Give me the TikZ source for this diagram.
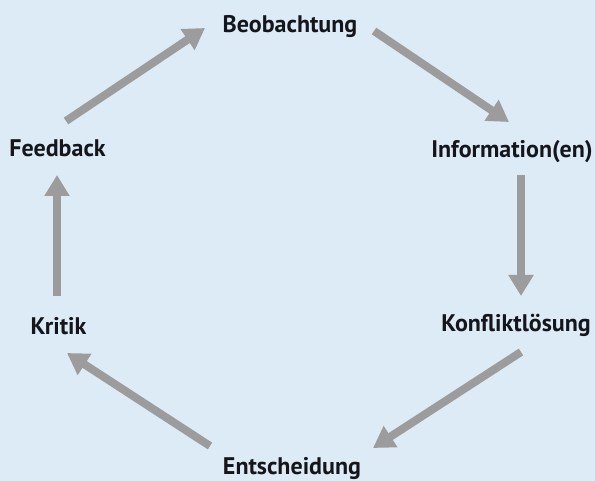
\documentclass[tikz,border=0pt]{standalone}
\usepackage{fontspec}
\setmainfont{PT Sans}
\usetikzlibrary{arrows.meta}
\definecolor{bg}{HTML}{DDEBF7}
\definecolor{arr}{HTML}{9C9C9C}
\definecolor{txt}{HTML}{15161C}
\tikzset{
  lbl/.style={font=\bfseries\fontsize{24}{28}\selectfont, text=txt, inner sep=0pt, anchor=base},
  cyc/.style={draw=arr, line width=8pt, -{Triangle[length=21pt,width=24pt]}}
}
\begin{document}
\begin{tikzpicture}[x=1pt,y=-1pt]
\fill[bg] (0,0) rectangle (595,481);
\useasboundingbox (0,0) rectangle (595,481);
\node[lbl] (beo) at (290,33) {Beobachtung};
\node[lbl] (fee) at (57.5,157) {Feedback};
\node[lbl] (inf) at (512,158) {Information(en)};
\node[lbl] (kon) at (516,332) {Konfliktlösung};
\node[lbl] (kri) at (58.5,335) {Kritik};
\node[lbl] (ent) at (292,474.5) {Entscheidung};
\coordinate (a1s) at (66,121);  \coordinate (a1e) at (205,28);
\coordinate (a2s) at (374,31);  \coordinate (a2e) at (509,122);
\coordinate (a3s) at (521,175); \coordinate (a3e) at (521,296);
\coordinate (a4s) at (521,352); \coordinate (a4e) at (373,448);
\coordinate (a5s) at (210,446); \coordinate (a5e) at (67,353);
\coordinate (a6s) at (57,296);  \coordinate (a6e) at (57,175);
\draw[cyc] (a1s) -- (a1e);
\draw[cyc] (a2s) -- (a2e);
\draw[cyc] (a3s) -- (a3e);
\draw[cyc] (a4s) -- (a4e);
\draw[cyc] (a5s) -- (a5e);
\draw[cyc] (a6s) -- (a6e);
\end{tikzpicture}
\end{document}
